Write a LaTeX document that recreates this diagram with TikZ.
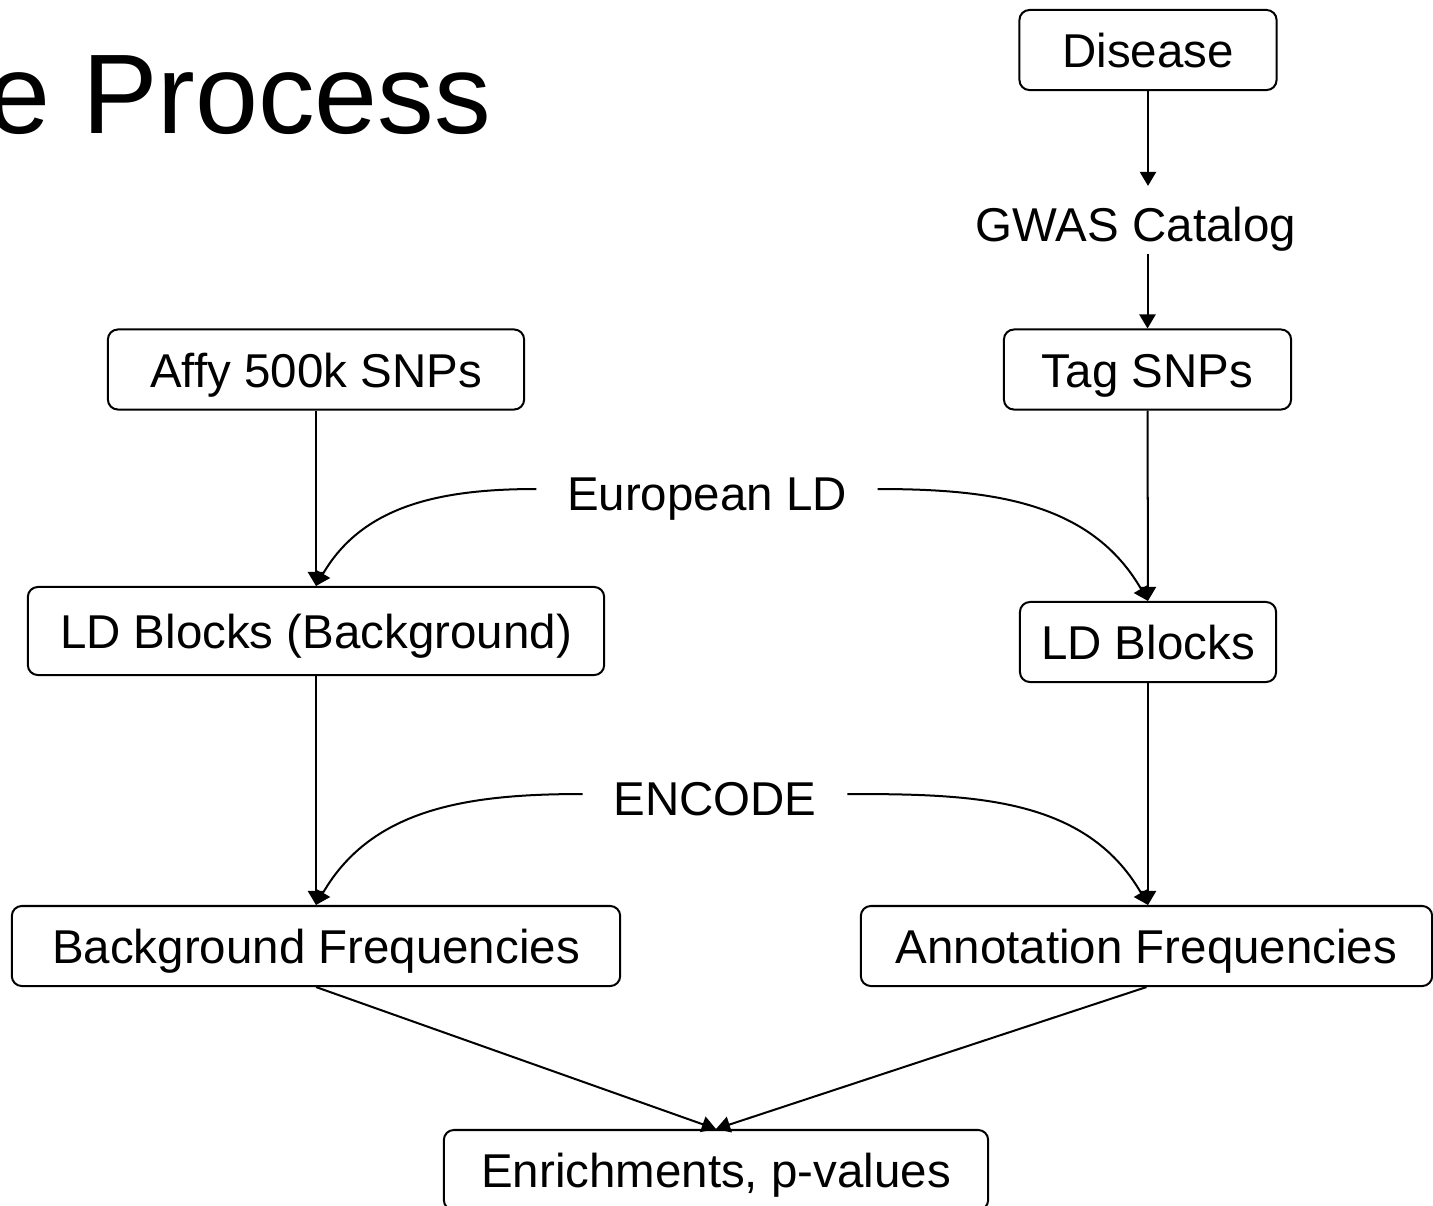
\documentclass[tikz,border=0pt]{standalone}
\usepackage{fontspec}
\setmainfont{Liberation Sans}
\usetikzlibrary{arrows.meta,positioning}
\tikzset{
  bloc/.style={draw=black,rounded corners=0.1cm,line width=0.57pt,align=center,
               font=\fontsize{13.5}{16}\selectfont,inner sep=0pt,minimum height=0.8cm,
               text height=1.1em,text depth=0.1em},
  etiq/.style={font=\fontsize{13.5}{16}\selectfont,inner xsep=0.3cm,inner ysep=2pt,
               text height=1.36em,text depth=0.14em},
  fleche/.style={-{Triangle[length=4pt,width=4.6pt]},line width=0.57pt,color=black},
}

\begin{document}
\begin{tikzpicture}[x=0.01cm,y=-0.01cm]
  \useasboundingbox (0,0) rectangle (1433,1205);
  \node[anchor=base west,inner sep=0pt,font=\fontsize{32.2}{38}\selectfont] (titre) at (-13,133) {e Process};
  % colonne de droite
  \node[bloc,minimum width=2.57cm] (disease) at (1148,50) {Disease};
  \node[etiq] (gwas) at (1136,220) {GWAS Catalog};
  \node[bloc,minimum width=2.87cm] (tag) at (1147.5,369.5) {Tag SNPs};
  \node[bloc,minimum width=2.56cm] (ld) at (1148,642) {LD Blocks};
  \node[bloc,minimum width=5.71cm] (annfreq) at (1146.5,946) {Annotation Frequencies};
  % colonne de gauche
  \node[bloc,minimum width=4.16cm] (affy) at (316,369.5) {Affy 500k SNPs};
  \node[bloc,minimum width=5.76cm,minimum height=0.88cm] (ldbg) at (316,631) {LD Blocks (Background)};
  \node[bloc,minimum width=6.08cm] (bgfreq) at (316,946) {Background Frequencies};
  \node[bloc,minimum width=5.44cm] (enrich) at (716,1170) {Enrichments, p-values};
  % sources
  \node[etiq] (euro) at (707,489) {European LD};
  \node[etiq] (encode) at (715,794) {ENCODE};

  \draw[fleche] (disease) -- (disease |- gwas.north);
  \draw[fleche] (gwas.south -| tag.north) -- (tag);
  \draw[fleche] (affy) -- (ldbg);
  \draw[fleche] (tag) -- (ld);
  \draw[fleche] (ldbg) -- (bgfreq);
  \draw[fleche] (ld) -- (ld |- annfreq.north);
  \draw[fleche] (euro.west) to[out=180,in=60] (ldbg.north);
  \draw[fleche] (euro.east) to[out=0,in=120] (ld.north);
  \draw[fleche] (encode.west) to[out=180,in=60] (bgfreq.north);
  \draw[fleche] (encode.east) to[out=0,in=120] (ld |- annfreq.north);
  \foreach \u in {bgfreq,annfreq} \draw[fleche] (\u.south) -- (enrich.north);
\end{tikzpicture}
\end{document}
